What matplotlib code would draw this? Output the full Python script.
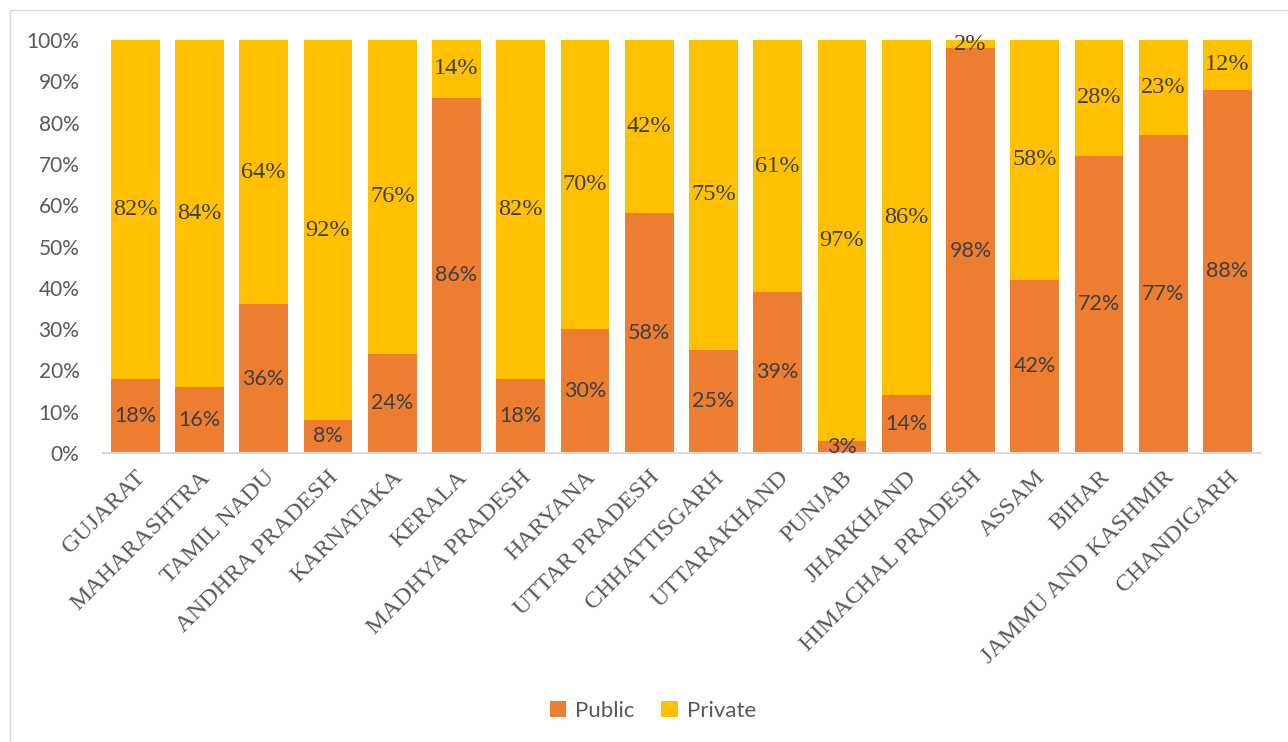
import matplotlib.pyplot as plt
from matplotlib.patches import Rectangle
import numpy as np

states = ['GUJARAT', 'MAHARASHTRA', 'TAMIL NADU', 'ANDHRA PRADESH', 'KARNATAKA',
          'KERALA', 'MADHYA PRADESH', 'HARYANA', 'UTTAR PRADESH', 'CHHATTISGARH',
          'UTTARAKHAND', 'PUNJAB', 'JHARKHAND', 'HIMACHAL PRADESH', 'ASSAM',
          'BIHAR', 'JAMMU AND KASHMIR', 'CHANDIGARH']
public = [18, 16, 36, 8, 24, 86, 18, 30, 58, 25, 39, 3, 14, 98, 42, 72, 77, 88]
private = [82, 84, 64, 92, 76, 14, 82, 70, 42, 75, 61, 97, 86, 2, 58, 28, 23, 12]

sans = ['Lato', 'DejaVu Sans']
serif = ['Liberation Serif', 'DejaVu Serif']

fig = plt.figure(figsize=(12.88, 7.42), dpi=100)
ax = fig.add_axes([0.080, 0.3895, 0.898, 0.5565])

# chart frame
fig.patches.append(Rectangle((10 / 1288, -0.01), 1.0, 1 - 10 / 742 + 0.01,
                             transform=fig.transFigure, fill=False,
                             edgecolor='#D9D9D9', linewidth=1))

x = np.arange(len(states))
pub = np.array(public)
prv = np.array(private)
b1 = ax.bar(x, pub, width=0.76, color='#ED7D31', label='Public')
b2 = ax.bar(x, prv, width=0.76, bottom=pub, color='#FFC000', label='Private')

for i in range(len(states)):
    ax.text(x[i], pub[i] / 2, f'{public[i]}%', ha='center', va='center',
            fontsize=15.5, color='#404040', family=sans)
    ax.text(x[i], pub[i] + prv[i] / 2, f'{private[i]}%', ha='center', va='center',
            fontsize=17.5, color='#404040', family=serif)

ax.set_xlim(-0.5, len(states) - 0.5)
ax.set_ylim(0, 100)
ax.set_yticks(np.arange(0, 101, 10))
ax.set_yticklabels([f'{v}%' for v in range(0, 101, 10)], family=sans,
                   fontsize=15, color='#595959')
ax.set_xticks(x)
ax.set_xticklabels(states, rotation=45, ha='right', rotation_mode='anchor',
                   family=serif, fontsize=17.5, color='#595959')
ax.tick_params(axis='both', length=0)
ax.tick_params(axis='y', pad=17)
ax.tick_params(axis='x', pad=10)

for s in ['top', 'right', 'left']:
    ax.spines[s].set_visible(False)
ax.spines['bottom'].set_color('#D9D9D9')
ax.spines['bottom'].set_linewidth(1.5)

leg = fig.legend(handles=[b1, b2], loc='center', bbox_to_anchor=(0.507, 0.042),
                 ncol=2, frameon=False, handlelength=0.75, handleheight=0.75,
                 handletextpad=0.4, columnspacing=1.2,
                 prop={'family': sans, 'size': 16})
for t in leg.get_texts():
    t.set_color('#595959')

fig.savefig('out.png', dpi=100)
